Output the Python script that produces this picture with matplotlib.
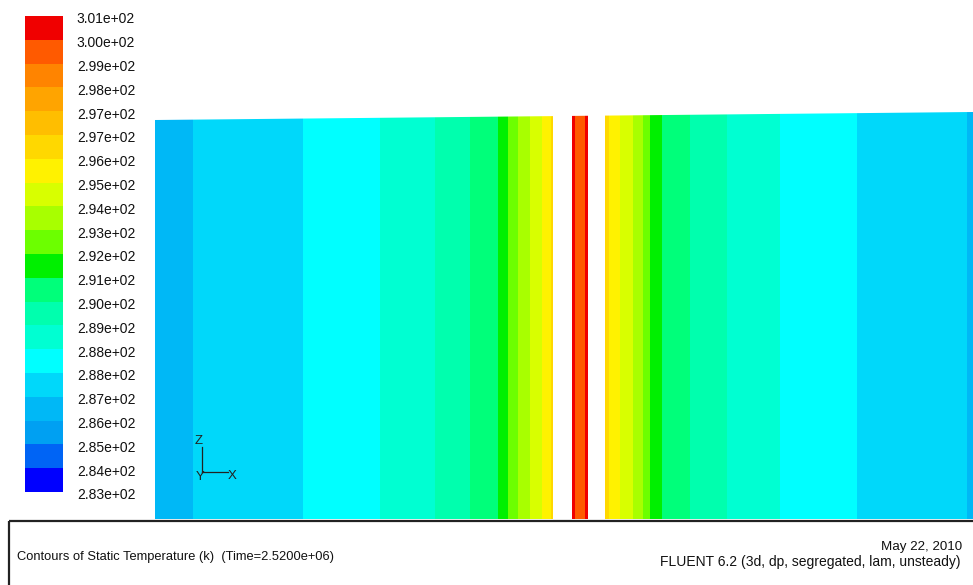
import numpy as np
import matplotlib.pyplot as plt
from matplotlib.colors import ListedColormap, BoundaryNorm
from matplotlib.patches import Polygon, Rectangle
from matplotlib.lines import Line2D

plt.rcParams['font.family'] = ['Liberation Sans', 'DejaVu Sans']

# contour levels (K) and the labels shown on the colour scale
levels = [283.0, 283.9, 284.8, 285.7, 286.6, 287.5, 288.4, 289.3, 290.2, 291.1,
          292.0, 292.9, 293.8, 294.7, 295.6, 296.5, 297.4, 298.3, 299.2, 300.1, 301.0]
level_labels = ['2.83e+02', '2.84e+02', '2.85e+02', '2.86e+02', '2.87e+02', '2.88e+02',
                '2.88e+02', '2.89e+02', '2.90e+02', '2.91e+02', '2.92e+02', '2.93e+02',
                '2.94e+02', '2.95e+02', '2.96e+02', '2.97e+02', '2.97e+02', '2.98e+02',
                '2.99e+02', '3.00e+02', '3.01e+02']
fluent_colors = ['#0000ff', '#0064f5', '#00a0f2', '#00b8f6', '#00d8fa', '#00ffff',
                 '#00ffd2', '#00ffae', '#00ff7a', '#00f000', '#6cff00', '#a8ff00',
                 '#d8ff00', '#fff200', '#ffd800', '#ffbe00', '#ffa400', '#ff8400',
                 '#ff5a00', '#f00000']

# temperature bands across the domain (x measured from the left wall)
left_edges = [0, 38, 148, 225, 280, 315, 343, 353, 363, 375, 387, 396, 398]
left_temps = [286.15, 287.05, 287.95, 288.85, 289.75, 290.65, 291.55, 292.45,
              293.35, 294.25, 295.15, 296.05]
heater_edges = [417, 420, 430, 433]
heater_temps = [300.55, 299.65, 300.55]
right_edges = [450, 454, 465, 478, 488, 495, 507, 535, 572, 625, 702, 812, 818]
right_temps = [296.05, 295.15, 294.25, 293.35, 292.45, 291.55, 290.65, 289.75,
               288.85, 287.95, 287.05, 286.15]
domain_top = [399, 407]   # height of the top wall at left and right ends

cmap = ListedColormap(fluent_colors)
norm = BoundaryNorm(levels, cmap.N)

fig = plt.figure(figsize=(9.73, 5.85), dpi=100)

ax = fig.add_axes([155 / 973, 66 / 585, 818 / 973, 407 / 585])
ax.set_xlim(0, 818)
ax.set_ylim(0, 407)
ax.axis('off')

outline = Polygon([(0, 0), (818, 0), (818, domain_top[1]), (0, domain_top[0])],
                  closed=True, transform=ax.transData, facecolor='none', edgecolor='none')
ax.add_patch(outline)
for edges, temps in [(left_edges, left_temps), (heater_edges, heater_temps),
                     (right_edges, right_temps)]:
    mesh = ax.pcolormesh(edges, [0, 407], np.array([temps]), cmap=cmap, norm=norm,
                         shading='flat', antialiased=False)
    mesh.set_clip_path(outline)

# colour scale
cax = fig.add_axes([25 / 973, 93 / 585, 38 / 973, 476 / 585])
for i, c in enumerate(fluent_colors):
    cax.axhspan(levels[i], levels[i + 1], color=c, lw=0)
cax.set_ylim(levels[0], levels[-1])
cax.set_xlim(0, 1)
cax.axis('off')
for lev, lab in zip(levels, level_labels):
    cax.annotate(lab, xy=(1, lev), xycoords=('axes fraction', 'data'),
                 xytext=(10, -2.5), textcoords='offset points',
                 va='center', ha='left', fontsize=10, color='#111111')

# overlay for the annotation box and axis triad
ov = fig.add_axes([0, 0, 1, 1], facecolor='none')
ov.set_xlim(0, 973)
ov.set_ylim(585, 0)
ov.axis('off')
ov.add_patch(Rectangle((9, 521), 980, 80, fill=False, edgecolor='#222222', lw=1.6))
ov.text(17, 557, 'Contours of Static Temperature (k)  (Time=2.5200e+06)',
        ha='left', va='center', fontsize=9.3, color='#111111')
ov.text(962, 547, 'May 22, 2010', ha='right', va='center', fontsize=9.6, color='#111111')
ov.text(961, 562, 'FLUENT 6.2 (3d, dp, segregated, lam, unsteady)',
        ha='right', va='center', fontsize=10, color='#111111')

ov.add_line(Line2D([202, 202], [447, 472], color='#222222', lw=0.9))
ov.add_line(Line2D([202, 228], [472, 472], color='#222222', lw=0.9))
ov.text(199, 441, 'Z', ha='center', va='center', fontsize=9.5, color='#222222')
ov.text(200, 477, 'Y', ha='center', va='center', fontsize=9.5, color='#222222')
ov.text(232, 476, 'X', ha='center', va='center', fontsize=9.5, color='#222222')

fig.savefig('out.png', dpi=100)
